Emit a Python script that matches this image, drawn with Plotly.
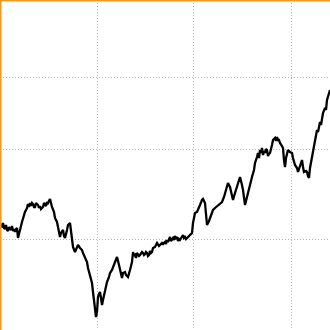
import plotly.graph_objects as go

# Time index (trading periods) and index level
day = [0, 1, 2, 3, 4, 5, 6, 7, 8, 9, 10, 11, 12, 13, 14, 15, 16, 17, 18, 19,
       20, 22, 23, 25, 27, 28, 29, 30, 31, 32, 33, 34, 35, 36, 37, 38, 39, 40, 41, 42,
       43, 44, 45, 46, 47, 48, 49, 50, 52, 54, 55, 57, 58, 60, 61, 63, 64, 65, 67, 68,
       70, 71, 72, 73, 75, 76, 78, 80, 82, 83, 85, 87, 88, 90, 92, 93, 94, 95, 96, 97,
       98, 99, 100, 101, 102, 103, 105, 107, 109, 110, 112, 114, 115, 117, 119, 120, 122, 123, 125, 126,
       128, 130, 132, 133, 134, 135, 136, 137, 138, 139, 140, 141, 142, 143, 144, 145, 146, 147, 148, 149,
       150, 151, 152, 153, 155, 157, 159, 160, 162, 163, 165, 166, 167, 168, 170, 171, 172, 173, 174, 175,
       176, 177, 178, 179, 180, 182, 183, 184, 185, 186, 188, 190, 192, 193, 195, 197, 198, 200, 202, 203,
       205, 206, 207, 209, 210, 212, 213, 215, 218, 220, 222, 224, 226, 228, 230, 232, 233, 235, 237, 239,
       240, 242, 243, 245, 247, 248, 250, 252, 254, 255, 257, 258, 259, 260, 261, 262, 263, 264, 265, 266,
       267, 268, 269, 270, 272, 273, 275, 276, 277, 278, 279, 280, 282, 283, 284, 285, 286, 288, 290, 292,
       293, 295, 297, 298, 300, 302, 303, 304, 306, 307, 308, 309, 310, 312, 313, 315, 317, 318, 320, 321,
       322, 323, 325, 326, 327, 329, 330]

level = [102, 105, 104, 107, 102, 101, 105, 100, 99, 103, 101, 100, 104, 99, 101, 98, 101, 102, 92, 98,
         100, 108, 112, 118, 122, 126, 123, 127, 124, 127, 126, 123, 123, 127, 126, 125, 122, 124, 121, 122,
         123, 127, 126, 124, 128, 127, 129, 131, 123, 118, 112, 108, 103, 93, 97, 100,
         94, 92, 100, 105, 107, 100, 93, 83, 78, 81, 85, 82, 80, 77, 72, 68, 62, 54, 47, 38,
         30, 23, 13, 18, 33, 36, 38, 32, 25, 30, 40, 48, 53, 57, 60, 66, 68, 73, 65, 60, 52, 57, 58, 55,
         53, 60, 68, 78, 74, 75, 72, 77, 75, 74, 75, 77, 78, 77, 75, 76, 78, 77, 74, 75,
         79, 77, 78, 82, 83, 87, 84, 85, 87, 86, 88, 86, 90, 88, 93, 89, 91, 92, 90, 94,
         92, 93, 89, 91, 90, 94, 95, 92, 93, 91, 93, 96, 97, 107, 117, 118, 120, 125, 130, 131,
         127, 118, 105, 109, 112, 117, 120, 122, 125, 127, 128, 133, 140, 147, 143, 135, 130, 137, 143, 150,
         153, 145, 140, 125, 133, 140, 147, 153, 160, 167, 173, 177, 172, 180, 177, 182, 175, 179, 177, 181,
         180, 174, 176, 177, 185, 190, 192, 189, 193, 190, 190, 187, 184, 182, 170, 163, 172, 180, 178, 177,
         172, 165, 162, 158, 164, 170, 163, 158, 159, 158, 154, 152, 162, 173, 180, 193, 200, 198, 208, 205,
         210, 217, 222, 220, 230, 238, 240]

grid_x = [0, 97, 193, 291]
grid_y = [1, 91, 181, 253]

fig = go.Figure(go.Scatter(x=day, y=level, mode="lines",
                           line=dict(color="black", width=2.3), hoverinfo="skip"))

axis_common = dict(showticklabels=False, ticks="", zeroline=False, showline=False,
                   showgrid=True, gridcolor="#b4b4b4", gridwidth=1, griddash="1px,2px")

fig.update_layout(
    width=330, height=330, margin=dict(l=0, r=0, t=0, b=0),
    paper_bgcolor="white", plot_bgcolor="white", showlegend=False,
    xaxis=dict(range=[0, 330], tickvals=grid_x, **axis_common),
    yaxis=dict(range=[0, 330], tickvals=grid_y, **axis_common),
    shapes=[
        dict(type="line", xref="paper", yref="paper", x0=0, x1=0, y0=0, y1=1,
             line=dict(color="#F39A1E", width=3)),
        dict(type="line", xref="paper", yref="paper", x0=0, x1=1, y0=1, y1=1,
             line=dict(color="#F39A1E", width=3)),
    ],
)

fig.write_html("out.html")
